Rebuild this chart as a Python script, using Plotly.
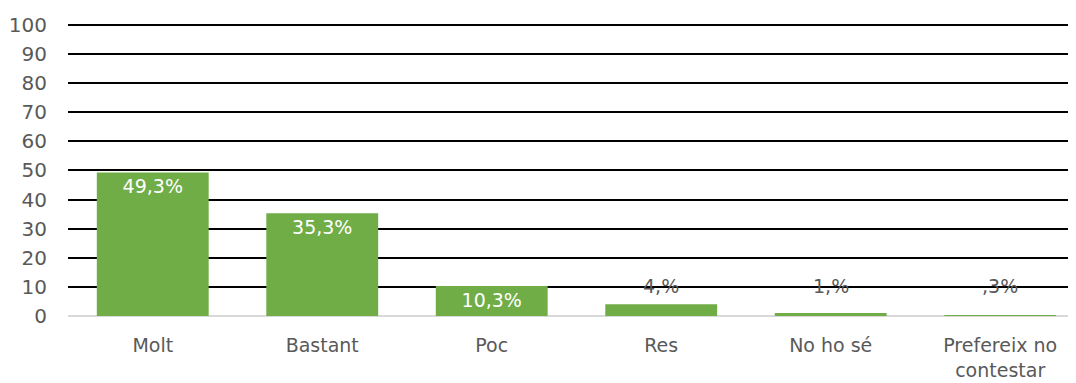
import plotly.graph_objects as go

# Survey answers and their shares (%)
categories = ["Molt", "Bastant", "Poc", "Res", "No ho sé", "Prefereix no<br>contestar"]
values = [49.3, 35.3, 10.3, 4.0, 1.0, 0.3]
value_labels = ["49,3%", "35,3%", "10,3%", "4,%", "1,%", ",3%"]
y_ticks = [0, 10, 20, 30, 40, 50, 60, 70, 80, 90, 100]

GREEN = "#70ad47"
GREY_TEXT = "#595959"
FONT = "DejaVu Sans"

# large bars carry their label inside, small ones get it drawn above
inside_cut = 10
inside_text = [t if v >= inside_cut else "" for v, t in zip(values, value_labels)]

fig = go.Figure()
fig.add_trace(go.Bar(
    x=list(range(len(categories))),
    y=values,
    width=0.66,
    marker=dict(color=GREEN, line=dict(width=0)),
    text=inside_text,
    textposition="inside",
    insidetextanchor="end",
    textfont=dict(color="white", size=19, family=FONT),
    cliponaxis=False,
    hoverinfo="skip",
))

for i, (v, t) in enumerate(zip(values, value_labels)):
    if v < inside_cut:
        fig.add_annotation(
            x=i, y=10.4, text=t, showarrow=False,
            font=dict(color=GREY_TEXT, size=19, family=FONT),
            xanchor="center", yanchor="middle",
        )

fig.update_layout(
    width=1076, height=383,
    margin=dict(l=68, r=8, t=23, b=67, autoexpand=False),
    paper_bgcolor="white", plot_bgcolor="white",
    showlegend=False,
    font=dict(family=FONT, color=GREY_TEXT, size=20),
)
fig.update_xaxes(
    range=[-0.5, 5.4],
    automargin=False,
    tickmode="array",
    tickvals=list(range(len(categories))),
    ticktext=categories,
    showgrid=False,
    showline=False,
    zeroline=False,
    ticks="outside", ticklen=12, tickcolor="rgba(0,0,0,0)",
    tickfont=dict(size=19, color=GREY_TEXT, family=FONT),
)
fig.update_yaxes(
    range=[0, 100.6],
    automargin=False,
    tickmode="array",
    tickvals=y_ticks,
    showgrid=True, gridcolor="black", gridwidth=2,
    zeroline=True, zerolinecolor="#d9d9d9", zerolinewidth=2,
    showline=False,
    ticks="outside", ticklen=16, tickcolor="rgba(0,0,0,0)",
    tickfont=dict(size=20, color=GREY_TEXT, family=FONT),
)

fig.write_html("out.html")
